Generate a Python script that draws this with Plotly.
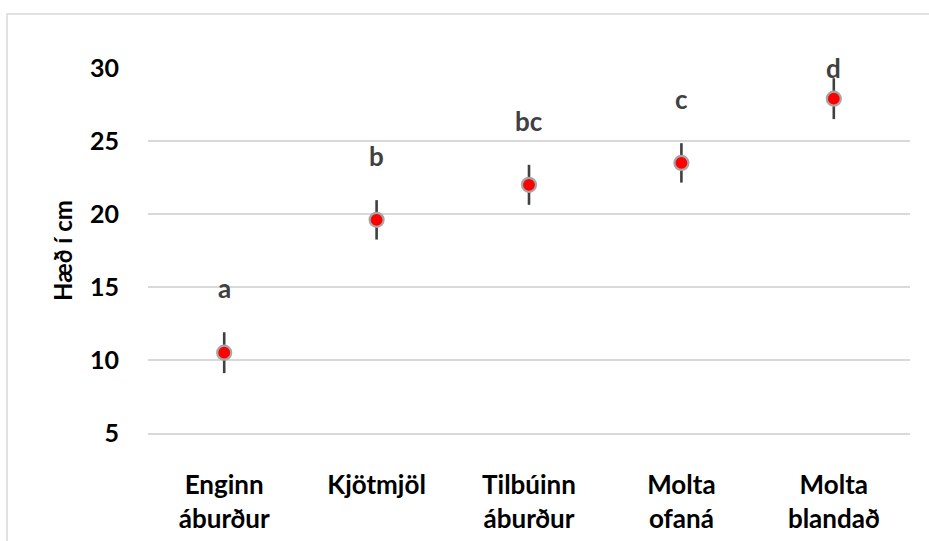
import plotly.graph_objects as go

categories = ["Enginn<br>áburður", "Kjötmjöl", "Tilbúinn<br>áburður", "Molta<br>ofaná", "Molta<br>blandað"]
heights = [10.5, 19.6, 22.0, 23.5, 27.9]
errors = [1.4, 1.35, 1.37, 1.35, 1.4]
letters = ["a", "b", "bc", "c", "d"]
letter_y = [14.9, 24.0, 26.4, 27.9, 30.0]
y_ticks = [5, 10, 15, 20, 25, 30]

FONT = "Lato"
Y_MIN, Y_MAX = 5, 30

fig = go.Figure()
fig.add_trace(go.Scatter(
    x=categories, y=heights, mode="markers",
    marker=dict(size=14, color="#ff0000", line=dict(color="#a6a6a6", width=2.2)),
    error_y=dict(type="data", array=errors, visible=True, color="#404040", thickness=2.6, width=0),
    cliponaxis=False, showlegend=False,
))

for c, t, ly in zip(categories, letters, letter_y):
    fig.add_annotation(x=c, y=ly, text=t, showarrow=False,
                       font=dict(family=FONT, size=26, color="#404040", weight="bold"),
                       yanchor="middle")

fig.add_shape(type="rect", xref="paper", yref="paper",
              x0=-0.185, x1=1.1, y0=-0.35, y1=1.148,
              line=dict(color="#d9d9d9", width=1.5), fillcolor="rgba(0,0,0,0)", layer="below")

fig.update_layout(
    width=929, height=541,
    margin=dict(l=148, r=19, t=68, b=108),
    paper_bgcolor="white", plot_bgcolor="white",
    font=dict(family=FONT, color="#000000"),
    xaxis=dict(range=[-0.5, 4.5], showgrid=False, showline=True, linecolor="#d9d9d9", linewidth=1.8,
               zeroline=False, ticks="", automargin=False,
               tickfont=dict(family=FONT, size=26, color="#000000", weight="bold"),
               ticklabelstandoff=28),
    yaxis=dict(range=[Y_MIN, Y_MAX], tickvals=y_ticks, showgrid=True, gridcolor="#d9d9d9",
               gridwidth=1.8, zeroline=False, showline=False, ticks="", automargin=False,
               tickfont=dict(family=FONT, size=25, color="#000000", weight="bold"),
               ticklabelstandoff=28,
               title=dict(text="Hæð í cm", font=dict(family=FONT, size=24, color="#000000", weight="bold"),
                          standoff=10)),
)

fig.write_html("out.html")
